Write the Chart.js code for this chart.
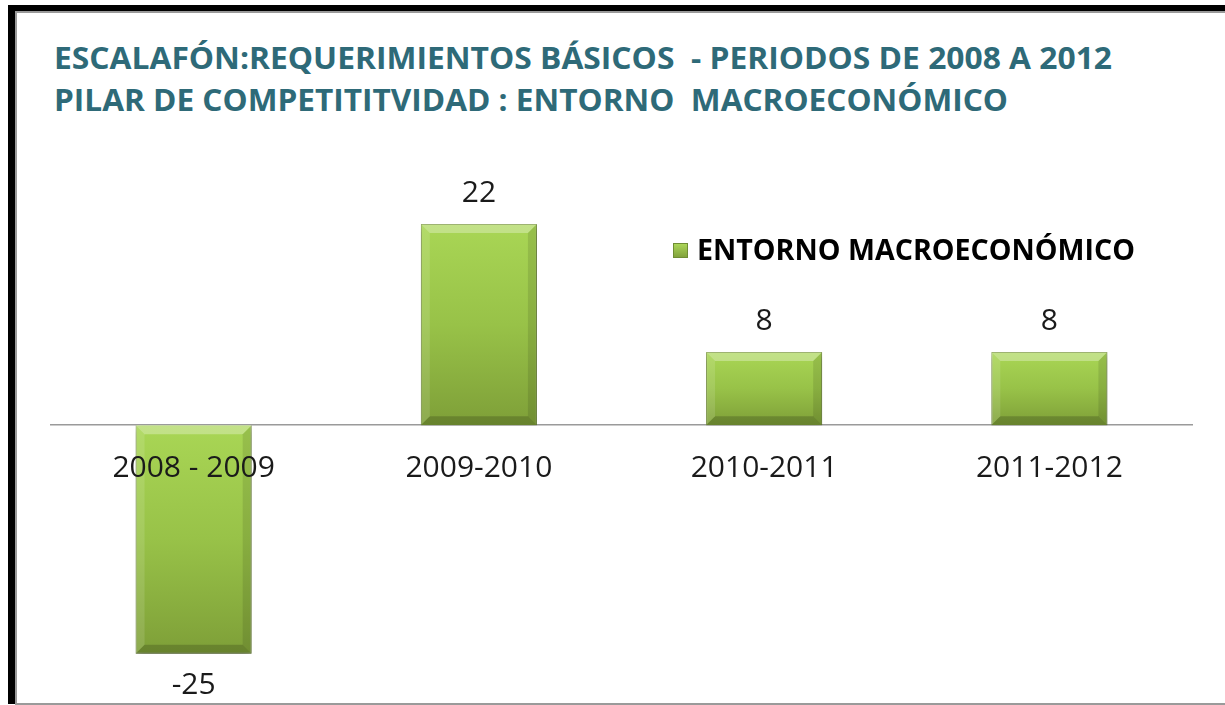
<!DOCTYPE html>
<html>
<head>
<meta charset="utf-8">
<script src="https://cdn.jsdelivr.net/npm/chart.js@4.4.1/dist/chart.umd.min.js"></script>
<style>
  html, body { margin: 0; padding: 0; background: #fff; }
  body { width: 1225px; height: 705px; position: relative; overflow: hidden; }
  .frame {
    position: absolute; left: 8px; top: 5px; right: 0; bottom: 1px;
    border-left: 7px solid #000; border-top: 6px solid #000;
  }
  .inner {
    position: absolute; left: 15px; top: 11px; right: 0; bottom: 0;
    border-left: 2px solid #9a9a9a; border-top: 2px solid #9a9a9a; border-bottom: 2px solid #9a9a9a;
  }
  .title {
    position: absolute; left: 54px; white-space: pre; color: #2e6a78;
    font-family: "Open Sans", sans-serif; font-weight: bold; font-size: 31px;
    line-height: 1; transform-origin: 0 0;
  }
  #chart { position: absolute; left: 0; top: 0; }
</style>
</head>
<body>
<div class="frame"></div>
<div class="inner"></div>
<div class="title" id="t1" data-w="1058" style="top:42px">ESCALAFÓN:REQUERIMIENTOS BÁSICOS  - PERIODOS DE 2008 A 2012</div>
<div class="title" id="t2" data-w="954" style="top:84px">PILAR DE COMPETITITVIDAD : ENTORNO  MACROECONÓMICO</div>
<canvas id="chart" width="1225" height="705"></canvas>
<script>
// datos
const periodos = ["2008 - 2009", "2009-2010", "2010-2011", "2011-2012"];
const entornoMacro = [-25, 22, 8, 8];
const serieNombre = "ENTORNO MACROECONÓMICO";

// ajustar el ancho del título (Calibri es más estrecha)
document.querySelectorAll(".title").forEach((el) => {
  const w = el.getBoundingClientRect().width;
  el.style.transform = "scaleX(" + (el.dataset.w / w) + ")";
});

const FONT = "'Open Sans', sans-serif";

function barGradient(ctx) {
  const chart = ctx.chart;
  const yScale = chart.scales.y;
  if (!chart.chartArea || !yScale || typeof ctx.raw !== "number") return "#9bc64c";
  const a = yScale.getPixelForValue(ctx.raw);
  const b = yScale.getPixelForValue(0);
  if (!isFinite(a) || !isFinite(b)) return "#9bc64c";
  const g = chart.ctx.createLinearGradient(0, Math.min(a, b), 0, Math.max(a, b) + 0.01);
  g.addColorStop(0, "#a9d655");
  g.addColorStop(0.5, "#98c248");
  g.addColorStop(1, "#7e9f38");
  return g;
}

// sombra y bisel de las barras
const bevelPlugin = {
  id: "bevel",
  beforeDatasetsDraw(chart) {
    const c = chart.ctx;
    c.save();
    c.shadowColor = "rgba(0,0,0,0.35)";
    c.shadowBlur = 8;
    c.shadowOffsetY = 4;
  },
  afterDatasetsDraw(chart) {
    const c = chart.ctx;
    c.restore();
    chart.getDatasetMeta(0).data.forEach((bar) => {
      const x0 = bar.x - bar.width / 2, x1 = bar.x + bar.width / 2;
      const y0 = Math.min(bar.y, bar.base), y1 = Math.max(bar.y, bar.base);
      const b = 9;
      c.save();
      c.fillStyle = "rgba(255,255,255,0.30)";
      c.beginPath();
      c.moveTo(x0, y0); c.lineTo(x1, y0); c.lineTo(x1 - b, y0 + b); c.lineTo(x0 + b, y0 + b);
      c.closePath(); c.fill();
      c.fillStyle = "rgba(255,255,255,0.12)";
      c.beginPath();
      c.moveTo(x0, y0); c.lineTo(x0 + b, y0 + b); c.lineTo(x0 + b, y1 - b); c.lineTo(x0, y1);
      c.closePath(); c.fill();
      c.fillStyle = "rgba(0,0,0,0.10)";
      c.beginPath();
      c.moveTo(x1, y0); c.lineTo(x1, y1); c.lineTo(x1 - b, y1 - b); c.lineTo(x1 - b, y0 + b);
      c.closePath(); c.fill();
      c.fillStyle = "rgba(0,0,0,0.18)";
      c.beginPath();
      c.moveTo(x0, y1); c.lineTo(x1, y1); c.lineTo(x1 - b, y1 - b); c.lineTo(x0 + b, y1 - b);
      c.closePath(); c.fill();
      c.restore();
    });
  }
};

// etiquetas de valor
const valueLabels = {
  id: "valueLabels",
  afterDatasetsDraw(chart) {
    const c = chart.ctx;
    const data = chart.data.datasets[0].data;
    c.save();
    c.font = "30px " + FONT;
    c.fillStyle = "#1a1a1a";
    c.textAlign = "center";
    c.textBaseline = "middle";
    chart.getDatasetMeta(0).data.forEach((bar, i) => {
      const v = data[i];
      const y = v >= 0 ? bar.y - 31 : bar.y + 32;
      c.fillText(String(v), bar.x, y);
    });
    c.restore();
  }
};

// leyenda dentro del área del gráfico
const legendBox = {
  id: "legendBox",
  afterDraw(chart) {
    const c = chart.ctx;
    const label = chart.data.datasets[0].label;
    c.save();
    const g = c.createLinearGradient(0, 243, 0, 258);
    g.addColorStop(0, "#aed95a");
    g.addColorStop(1, "#7f9f3a");
    c.fillStyle = g;
    c.fillRect(673, 243, 15, 15);
    c.strokeStyle = "#6f8d34";
    c.lineWidth = 1;
    c.strokeRect(673.5, 243.5, 14, 14);
    c.font = "bold 28px " + FONT;
    const w = c.measureText(label).width;
    c.translate(697, 251);
    c.scale(438 / w, 1);
    c.fillStyle = "#000";
    c.textBaseline = "middle";
    c.fillText(label, 0, 1);
    c.restore();
  }
};

new Chart(document.getElementById("chart"), {
  type: "bar",
  data: {
    labels: periodos,
    datasets: [{
      label: serieNombre,
      data: entornoMacro,
      backgroundColor: barGradient,
      borderColor: "#7a9a38",
      borderWidth: 1,
      categoryPercentage: 1,
      barPercentage: 0.407
    }]
  },
  options: {
    responsive: false,
    animation: false,
    layout: { padding: { left: 51, right: 33, top: 151, bottom: 33 } },
    plugins: {
      legend: { display: false },
      title: { display: false },
      tooltip: { enabled: false }
    },
    scales: {
      x: {
        position: { y: 0 },
        grid: { display: false, drawTicks: false },
        border: { display: true, color: "#9a9a9a", width: 1.5, z: -1 },
        ticks: { z: 1, padding: 25, color: "#1a1a1a", font: { family: FONT, size: 30 } }
      },
      y: {
        display: false,
        min: -27,
        max: 30
      }
    }
  },
  plugins: [bevelPlugin, valueLabels, legendBox]
});
</script>
</body>
</html>
